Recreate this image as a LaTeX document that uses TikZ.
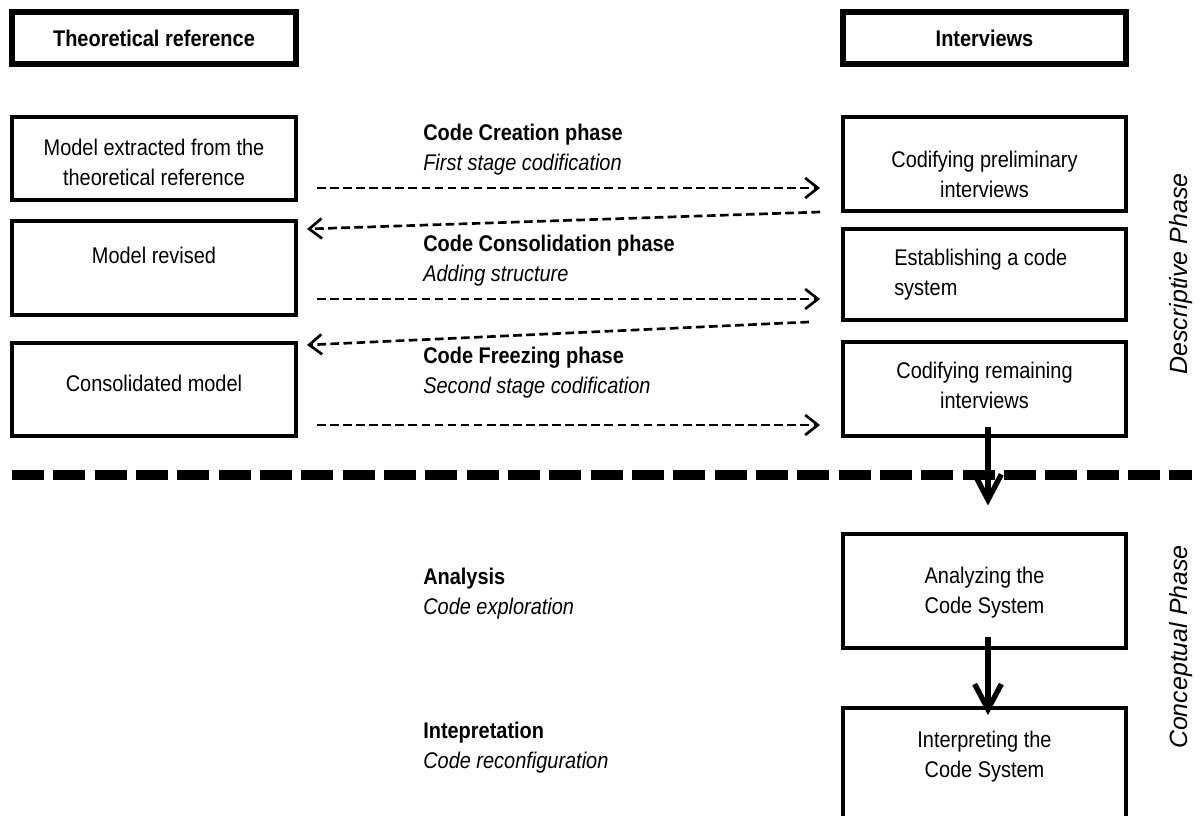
\documentclass[tikz,border=0pt]{standalone}
\usepackage{fontspec}
\setmainfont{Liberation Sans}[FakeStretch=0.88]
\newfontfamily\phasefont{Liberation Sans}
\usetikzlibrary{arrows.meta}

\tikzset{
  box/.style={draw, line width=2.8pt, minimum width=213pt, inner sep=0pt},
  headbox/.style={box, line width=3.8pt, minimum height=39pt, font=\bfseries\fontsize{17}{22.5}\selectfont},
  txt/.style={align=center, inner sep=0pt, font=\fontsize{17}{22.5}\selectfont},
  phaselabel/.style={align=left, anchor=west, inner sep=0pt, font=\fontsize{17}{22.5}\selectfont},
  dasharr/.style={line width=2pt, dash pattern=on 6.5pt off 3.3pt, -{Straight Barb[length=9.5pt,width=15pt]}},
  bigarr/.style={line width=4pt, -{Straight Barb[length=19pt,width=20pt]}},
  sidelabel/.style={rotate=90, font=\phasefont\itshape\fontsize{18.7}{22}\selectfont}
}

\begin{document}
\begin{tikzpicture}[x=0.75pt, y=-0.75pt]
\useasboundingbox (0,0) rectangle (1200,816);
\clip (0,0) rectangle (1200,816);

% headers
\node[headbox] (theo) at (154,38) {Theoretical reference};
\node[headbox, minimum width=212.25pt] (intv) at (984.5,38) {Interviews};

% left column
\node[box, minimum height=62.25pt] (mext) at (154,158.5) {};
\node[box, minimum height=70.5pt] (mrev) at (154,268) {};
\node[box, minimum height=69.75pt] (mcons) at (154,389.5) {};
\node[txt] (mext-t) at (154,162) {Model extracted from the\\theoretical reference};
\node[txt] (mrev-t) at (154,255) {Model revised};
\node[txt] (mcons-t) at (154,383) {Consolidated model};

% right column
\tikzset{box/.append style={minimum width=212.25pt}}
\node[box, minimum height=70.5pt] (cprel) at (984.5,164) {};
\node[box, minimum height=68.25pt] (estab) at (984.5,274.5) {};
\node[box, minimum height=70.5pt] (crem) at (984.5,389) {};
\node[box, minimum height=85.5pt] (anal) at (984.5,591) {};
\node[box, minimum height=114pt] (interp) at (984.5,784) {};
\node[txt] (cprel-t) at (984.5,174.5) {Codifying preliminary\\interviews};
\node[txt, align=left, anchor=west] (estab-t) at (894,275) {Establishing a code\\system};
\node[txt] (crem-t) at (984.5,385) {Codifying remaining\\interviews};
\node[txt] (anal-t) at (984.5,592.5) {Analyzing the\\Code System};
\node[txt] (interp-t) at (984.5,757) {Interpreting the\\Code System};

% phase labels in the middle
\node[phaselabel] (creation) at (423,150) {\textbf{Code Creation phase}\\\textit{First stage codification}};
\node[phaselabel] (consol) at (423,260.5) {\textbf{Code Consolidation phase}\\\textit{Adding structure}};
\node[phaselabel] (freeze) at (423,373) {\textbf{Code Freezing phase}\\\textit{Second stage codification}};
\node[phaselabel] (analysis) at (423,593.5) {\textbf{Analysis}\\\textit{Code exploration}};
\node[phaselabel] (interpret) at (423,748) {\textbf{Intepretation}\\\textit{Code reconfiguration}};

\node[sidelabel] (descr) at (1181,274) {Descriptive Phase};
\node[sidelabel] (concept) at (1181,647) {Conceptual Phase};

\foreach \n/\x/\y in {r1a/317/188, r1b/820/188, l1a/820/212, l1b/307/229,
  r2a/317/299, r2b/820/299, l2a/809/322, l2b/307/345,
  r3a/317/425, r3b/820/425, sepa/12/475, sepb/1192/475}
  \coordinate (\n) at (\x,\y);

\draw[dasharr] (r1a) -- (r1b);
\draw[dasharr] (l1a) -- (l1b);
\draw[dasharr] (r2a) -- (r2b);
\draw[dasharr] (l2a) -- (l2b);
\draw[dasharr] (r3a) -- (r3b);

% separator between the two phases
\draw[line width=7.5pt, dash pattern=on 24pt off 7pt] (sepa) -- (sepb);

\draw[bigarr, shorten <=-8.25pt, shorten >=20pt] ([xshift=2.6pt]crem.south) -- ([xshift=2.6pt]anal.north);
\draw[bigarr, shorten <=-9.75pt, shorten >=-6.75pt] ([xshift=2.6pt]anal.south) -- ([xshift=2.6pt]interp.north);
\end{tikzpicture}
\end{document}
